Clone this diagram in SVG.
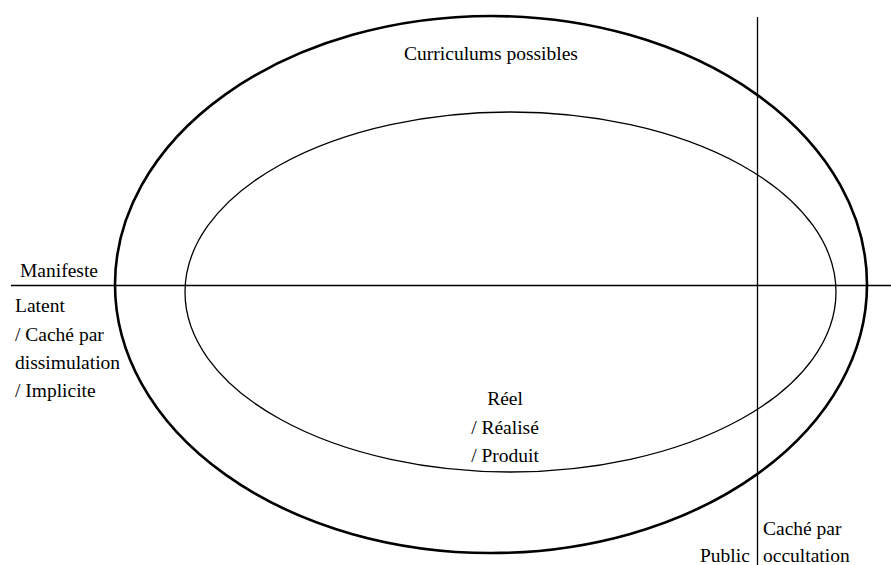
<svg xmlns="http://www.w3.org/2000/svg" width="891" height="565" viewBox="0 0 891 565">
<style>
text{font-family:'Liberation Serif','Times New Roman',Times,Tinos,'Nimbus Roman','Noto Serif','DejaVu Serif',serif;font-size:19.5px;fill:#000}
.mid{text-anchor:middle}
.shape{fill:none;stroke:#000}
</style>
<rect width="891" height="565" fill="#fff"/>
<g id="outer"><ellipse class="shape" cx="491" cy="284.5" rx="376" ry="268.5" stroke-width="2.6"/>
<text class="mid" x="491" y="60">Curriculums possibles</text></g>
<g id="inner"><ellipse class="shape" cx="510.5" cy="292" rx="325.5" ry="180" stroke-width="1.3"/>
<text class="mid" x="505" y="405">Réel</text>
<text class="mid" x="505" y="434">/ Réalisé</text>
<text class="mid" x="505" y="462">/ Produit</text></g>
<g id="connectors">
<line class="shape" x1="11" y1="285.5" x2="891" y2="285.5" stroke-width="1.3"/>
<line class="shape" x1="757.5" y1="17" x2="757.5" y2="565" stroke-width="1.3"/>
</g>
<g id="labels">
<text x="20" y="277">Manifeste</text>
<text x="15" y="312">Latent</text>
<text x="15" y="341">/ Caché par</text>
<text x="15" y="369">dissimulation</text>
<text x="15" y="397">/ Implicite</text>
<text x="700" y="562">Public</text>
<text x="763" y="535">Caché par</text>
<text x="763" y="562">occultation</text>
</g>
</svg>
